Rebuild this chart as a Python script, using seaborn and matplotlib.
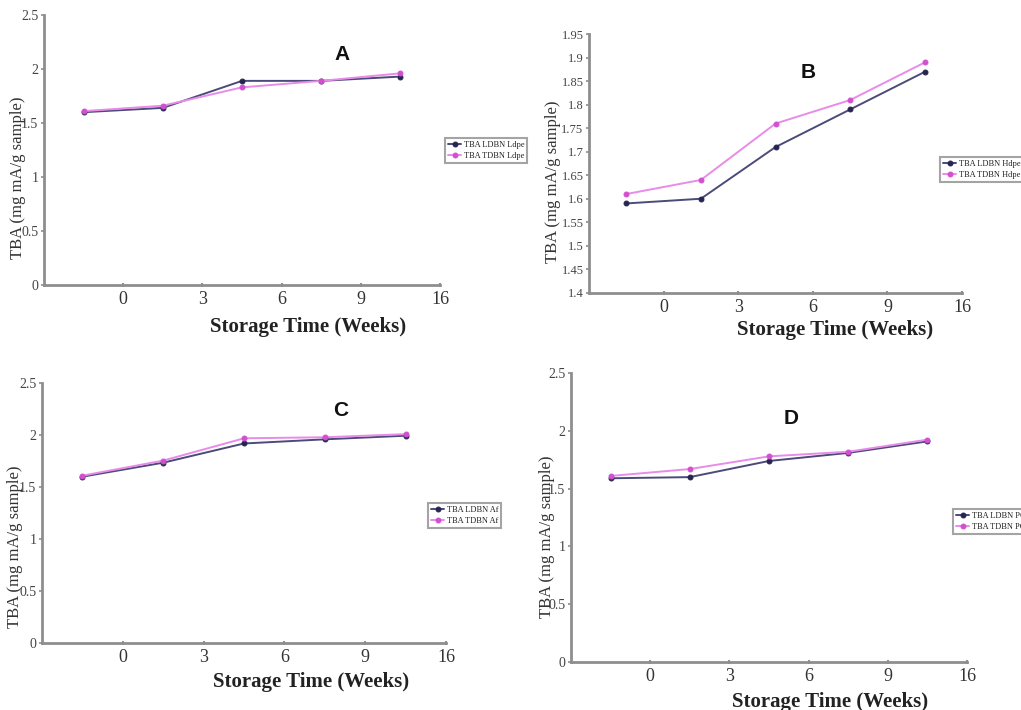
import numpy as np
import pandas as pd
import matplotlib
matplotlib.use("Agg")
import matplotlib.pyplot as plt
import seaborn as sns

# ---------------- data ----------------
weeks = ["0", "3", "6", "9", "16"]

a_ldbn = [1.60, 1.64, 1.89, 1.89, 1.93]
a_tdbn = [1.61, 1.66, 1.83, 1.89, 1.96]
b_ldbn = [1.59, 1.60, 1.71, 1.79, 1.87]
b_tdbn = [1.61, 1.64, 1.76, 1.81, 1.89]
c_ldbn = [1.60, 1.735, 1.92, 1.96, 1.995]
c_tdbn = [1.61, 1.755, 1.97, 1.98, 2.01]
d_ldbn = [1.59, 1.60, 1.74, 1.81, 1.91]
d_tdbn = [1.61, 1.67, 1.78, 1.82, 1.925]

panel_letters = ["A", "B", "C", "D"]
series_names = [
    ("TBA LDBN Ldpe", "TBA TDBN Ldpe"),
    ("TBA LDBN Hdpe", "TBA TDBN Hdpe"),
    ("TBA LDBN Af", "TBA TDBN Af"),
    ("TBA LDBN PC", "TBA TDBN PC"),
]
series_values = [(a_ldbn, a_tdbn), (b_ldbn, b_tdbn), (c_ldbn, c_tdbn), (d_ldbn, d_tdbn)]
y_limits = [(0, 2.5), (1.4, 1.95), (0, 2.5), (0, 2.5)]
y_steps = [0.5, 0.05, 0.5, 0.5]
x_title = "Storage Time (Weeks)"
y_title = "TBA (mg mA/g sample)"

# ---------------- layout (pixels) ----------------
W, H = 1021, 710
axes_px = [(44, 440, 15, 285), (589, 962, 34.3, 292.7),
           (42, 446, 383.3, 642.7), (571, 967, 373.3, 661.7)]
xlabel_px = [(308, 327), (835, 330), (311, 682), (830, 702)]
ylabel_px = [(18, 178), (553, 182), (15, 547), (547, 537)]
letter_px = [(342, 55), (808, 73), (341, 410), (791, 418)]
legend_px = [(445, 138), (940, 157), (428, 503), (953, 509)]
ytick_size = [10, 9, 10, 10]

sns.set_theme(style="white")
plt.rcParams["font.family"] = ["Liberation Serif", "DejaVu Serif"]

navy_line, navy_mark = "#4b4b7a", "#25254f"
pink_line, pink_mark = "#e98be9", "#d24fd2"
axis_gray = "#8e8e8e"

fig = plt.figure(figsize=(W / 100, H / 100), dpi=100)

for i in range(4):
    l, r, t, b = axes_px[i]
    ax = fig.add_axes([l / W, 1 - b / H, (r - l) / W, (b - t) / H])
    ldbn, tdbn = series_values[i]
    n1, n2 = series_names[i]
    df = pd.DataFrame({"week": weeks, "ldbn": ldbn, "tdbn": tdbn})
    sns.lineplot(data=df, x="week", y="ldbn", ax=ax, color=navy_line, lw=1.4,
                 marker="o", markersize=3.5, markerfacecolor=navy_mark,
                 markeredgecolor=navy_mark, label=n1, sort=False)
    sns.lineplot(data=df, x="week", y="tdbn", ax=ax, color=pink_line, lw=1.4,
                 marker="o", markersize=3.5, markerfacecolor=pink_mark,
                 markeredgecolor=pink_mark, label=n2, sort=False)

    n = len(weeks)
    ax.set_xlim(-0.5, n - 0.5)
    ax.set_xticks(np.arange(n) + 0.5)
    ax.set_xticklabels(weeks)
    lo, hi = y_limits[i]
    ax.set_ylim(lo, hi)
    yt = np.round(np.arange(lo, hi + y_steps[i] / 2, y_steps[i]), 2)
    ax.set_yticks(yt)
    ax.set_yticklabels([f"{v:g}" for v in yt])

    for s in ["top", "right"]:
        ax.spines[s].set_visible(False)
    for s in ["left", "bottom"]:
        ax.spines[s].set_color(axis_gray)
        ax.spines[s].set_linewidth(2)
    ax.tick_params(axis="x", bottom=True, length=3, width=1.5, color=axis_gray,
                   direction="inout", labelsize=13, labelcolor="#333333", pad=3)
    ax.tick_params(axis="y", left=True, length=2, width=1.2, color=axis_gray,
                   direction="out", labelsize=ytick_size[i], labelcolor="#444444", pad=2)
    ax.grid(False)

    ax.set_xlabel(x_title, fontsize=15, fontweight="bold", color="#222222")
    ax.set_ylabel(y_title, fontsize=12, color="#333333")
    xl, yl = xlabel_px[i]
    ax.xaxis.set_label_coords((xl - l) / (r - l), (b - yl) / (b - t))
    ax.xaxis.label.set_va("center")
    xl, yl = ylabel_px[i]
    ax.yaxis.set_label_coords((xl - l) / (r - l), (b - yl) / (b - t))
    ax.yaxis.label.set_va("center")

    lx, ly = letter_px[i]
    fig.text(lx / W, 1 - ly / H, panel_letters[i], fontsize=15, fontweight="bold",
             family=["Liberation Sans", "DejaVu Sans"], ha="center", va="center",
             color="#111111")

    gx, gy = legend_px[i]
    leg = ax.legend(loc="upper left", bbox_to_anchor=(gx / W, 1 - gy / H),
                    bbox_transform=fig.transFigure, borderaxespad=0,
                    fontsize=6, frameon=True, fancybox=False, handlelength=1.6,
                    handletextpad=0.3, borderpad=0.35, labelspacing=0.35,
                    numpoints=1)
    leg.get_frame().set_edgecolor(axis_gray)
    leg.get_frame().set_linewidth(1.5)
    for txt in leg.get_texts():
        txt.set_color("#222222")

fig.savefig("out.png", dpi=100)
